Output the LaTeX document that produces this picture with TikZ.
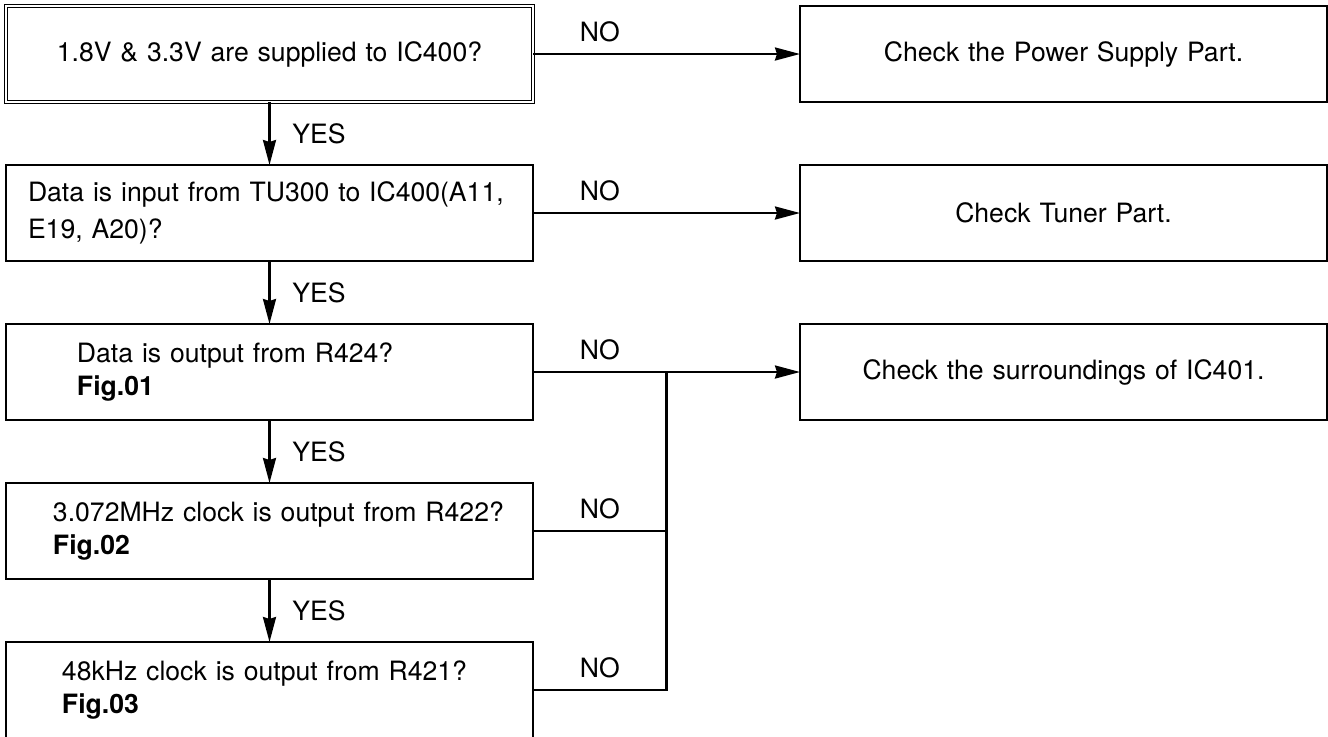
\documentclass[tikz,border=0pt]{standalone}
\usepackage{fontspec}
\setmainfont{TeX Gyre Heros}
\usepackage{tikz}
\usetikzlibrary{positioning, arrows.meta, calc}

\begin{document}
\begin{tikzpicture}[>={Stealth[length=12.5pt, width=6.5pt, inset=1pt]},
      qbox/.style={draw, line width=1.1pt, minimum width=263.5pt, minimum height=48pt,
        text width=255pt, inner xsep=0pt, outer sep=0pt, align=left,
        font=\fontsize{13.3}{16.5}\selectfont},
      lskip/.style={execute at begin node={\leftskip=#1}},
      cbox/.style={qbox, align=center, text width=240pt},
      flow/.style={->, line width=1.2pt},
      yes/.style={right=7.5pt, font=\fontsize{13.3}{15}\selectfont},
      no/.style={above=2pt, font=\fontsize{13.3}{15}\selectfont}]
    \useasboundingbox (0,0) rectangle (664pt,-368pt);
    % question column
    \node[cbox, anchor=north west, double, line width=0.55pt, double distance=0.9pt] (pwr) at (3pt,-3pt)
      {1.8V \& 3.3V are supplied to IC400?};
    \node[qbox, lskip=6.75pt, below=31.5pt of pwr] (tun)
      {Data is input from TU300 to IC400(A11,\\[2pt] E19, A20)?};
    \node[qbox, lskip=31.25pt, below=31.5pt of tun] (dat)
      {Data is output from R424?\\ \textbf{Fig.01}};
    \node[qbox, lskip=19.25pt, below=31.5pt of dat] (clk)
      {3.072MHz clock is output from R422?\\ \textbf{Fig.02}};
    \node[qbox, lskip=23.75pt, below=31.5pt of clk] (fs)
      {48kHz clock is output from R421?\\ \textbf{Fig.03}};
    % check column
    \node[cbox, right=133.5pt of pwr] (cpwr) {Check the Power Supply Part.};
    \node[cbox, right=133.5pt of tun] (ctun) {Check Tuner Part.};
    \node[cbox, right=133.5pt of dat] (csur) {Check the surroundings of IC401.};
    \coordinate (j) at ($(dat.east)!0.5!(csur.west)$);
    % YES
    \draw[flow] (pwr) -- node[yes] {YES} (tun);
    \draw[flow] (tun) -- node[yes] {YES} (dat);
    \draw[flow] (dat) -- node[yes] {YES} (clk);
    \draw[flow] (clk) -- node[yes] {YES} (fs);
    % NO
    \draw[flow] (pwr) -- node[no, pos=0.25] {NO} (cpwr);
    \draw[flow] (tun) -- node[no, pos=0.25] {NO} (ctun);
    \draw[flow] (dat) -- node[no, pos=0.25] {NO} (csur);
    \draw[line width=1.2pt] (clk) -- node[no] {NO} (clk -| j) -- (j);
    \draw[line width=1.2pt] (fs) -| node[no, pos=0.25] {NO} (j);
  \end{tikzpicture}
\end{document}
